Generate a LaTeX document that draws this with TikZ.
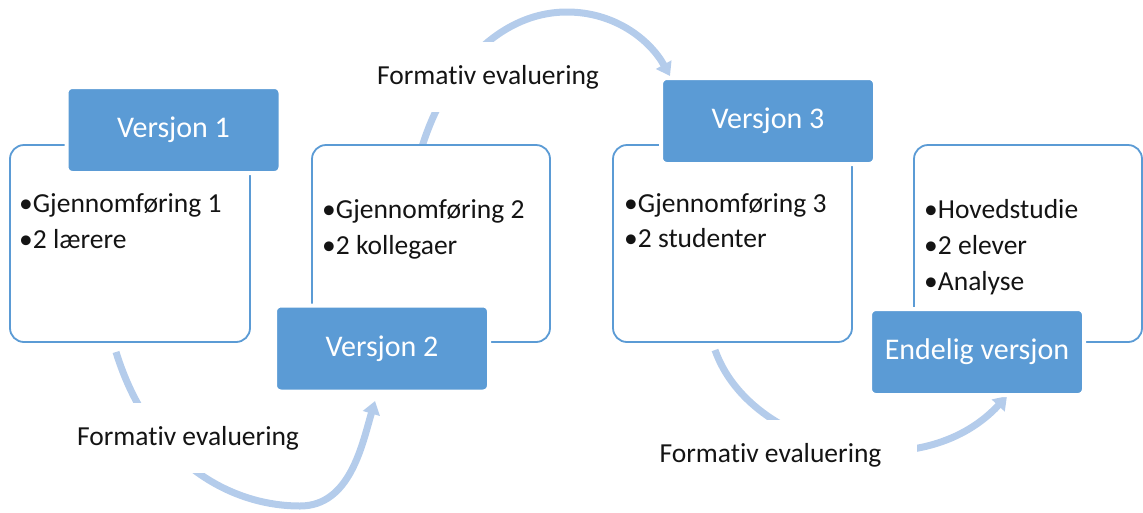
\documentclass[tikz,border=0pt]{standalone}
\usepackage{fontspec}
\setmainfont{Carlito}[Ligatures=NoCommon]
\usetikzlibrary{arrows.meta}
\definecolor{hblue}{HTML}{5B9BD5}
\definecolor{arcblue}{HTML}{B4CCEB}
\definecolor{txt}{HTML}{141414}
\begin{document}
\begin{tikzpicture}[x=1pt,y=-1pt,
 box/.style={draw=hblue, line width=1.8pt, fill=white, rounded corners=14pt, inner sep=0pt, minimum height=197pt},
 hdr/.style={draw=white, line width=4pt, fill=hblue, rounded corners=6pt, text=white, inner sep=0pt, minimum width=214pt, minimum height=86pt, font=\fontsize{30}{36}\selectfont},
 item/.style={anchor=base west, inner sep=0pt, text=txt, font=\fontsize{27.5}{33}\selectfont},
 lbl/.style={fill=white, inner sep=0pt, minimum width=293pt, minimum height=70pt, text=txt, font=\fontsize{27.5}{33}\selectfont},
 flow/.style={draw=arcblue, line width=7pt, -{Triangle[width=17pt,length=13pt]}}
]
\useasboundingbox (0,0) rectangle (1143,512);

% named end points of the arcs
\coordinate (a1s) at (116,352);
\coordinate (a1e) at (375,401);
\coordinate (a2s) at (421,150);
\coordinate (a2e) at (670,76);
\coordinate (a3s) at (715,350);
\coordinate (a3e) at (1007,396);

% curved arrows
\draw[flow] (a1s) .. controls (150,462) and (230,506) .. (300,506)
  .. controls (350,506) and (362,445) .. (a1e);
\draw[flow] (a2s) .. controls (445,70) and (500,12) .. (567,12)
  .. controls (615,12) and (650,40) .. (a2e);
\draw[flow] (a3s) .. controls (750,450) and (920,490) .. (a3e);

% labels
\node[lbl] (l1) at (188,438) {Formativ evaluering};
\node[lbl] (l2) at (488,77) {Formativ evaluering};
\node[lbl] (l3) at (770.5,455) {Formativ evaluering};

% content boxes
\node[box, minimum width=240pt] (b1) at (130,243.5) {};
\node[box, minimum width=238pt] (b2) at (431,243.5) {};
\node[box, minimum width=239pt] (b3) at (732.5,243.5) {};
\node[box, minimum width=228pt] (b4) at (1028,243.5) {};

% headers
\node[hdr] (h1) at (173.5,130) {Versjon 1};
\node[hdr] (h2) at (382,348.5) {Versjon 2};
\node[hdr] (h3) at (768,121) {Versjon 3};
\node[hdr] (h4) at (977,352) {Endelig versjon};

% bullet texts
\node[item] (t11) at (19,212) {•Gjennomføring 1};
\node[item] (t12) at (19,248) {•2 lærere};
\node[item] (t21) at (322,218) {•Gjennomføring 2};
\node[item] (t22) at (322,254) {•2 kollegaer};
\node[item] (t31) at (624,212) {•Gjennomføring 3};
\node[item] (t32) at (624,247) {•2 studenter};
\node[item] (t41) at (924,218) {•Hovedstudie};
\node[item] (t42) at (924,254) {•2 elever};
\node[item] (t43) at (924,290) {•Analyse};
\end{tikzpicture}
\end{document}
